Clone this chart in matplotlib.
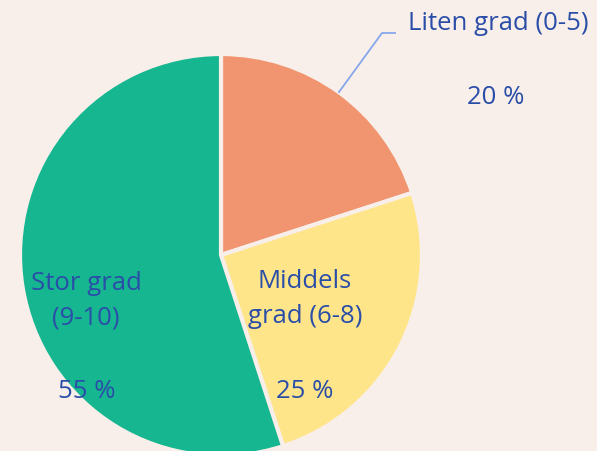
import matplotlib
matplotlib.use('Agg')
import matplotlib.pyplot as plt

# data
categories = ['Liten grad (0-5)', 'Middels\ngrad (6-8)', 'Stor grad\n(9-10)']
shares = [20, 25, 55]
colors = ['#F0956F', '#FFE58A', '#16B690']

bg = '#F9EFEA'
txt = '#2A4EA8'

W, H = 597, 451
fig = plt.figure(figsize=(W / 100, H / 100), dpi=100, facecolor=bg)
ax = fig.add_axes([0, 0, 1, 1])
ax.set_facecolor(bg)

# pie in pixel space (y axis inverted -> counterclock flips visually)
cx, cy, r = 221, 255, 201
ax.pie(shares, colors=colors, startangle=-90, counterclock=True,
       center=(cx, cy), radius=r, frame=True,
       wedgeprops=dict(edgecolor=bg, linewidth=3))
ax.set_xlim(0, W)
ax.set_ylim(H, 0)
ax.set_aspect('equal')
ax.axis('off')

fs = 18.5
font = ['Open Sans', 'DejaVu Sans']

# outside label for the small slice
ax.plot([339, 382, 395], [92, 33, 33], color='#86A6EC', lw=1.3)
ax.text(498, 23, categories[0], ha='center', va='center', fontsize=fs, color=txt, family=font)
ax.text(496, 98, f'{shares[0]} %', ha='center', va='center', fontsize=fs, color=txt, family=font)

# inside labels
ax.text(305, 299, categories[1], ha='center', va='center', fontsize=fs, color=txt,
        family=font, linespacing=1.5)
ax.text(305, 391, f'{shares[1]} %', ha='center', va='center', fontsize=fs, color=txt, family=font)
ax.text(86, 301, categories[2], ha='center', va='center', fontsize=fs, color=txt,
        family=font, linespacing=1.5)
ax.text(87, 392, f'{shares[2]} %', ha='center', va='center', fontsize=fs, color=txt, family=font)

fig.savefig('out.png', dpi=100, facecolor=bg)
